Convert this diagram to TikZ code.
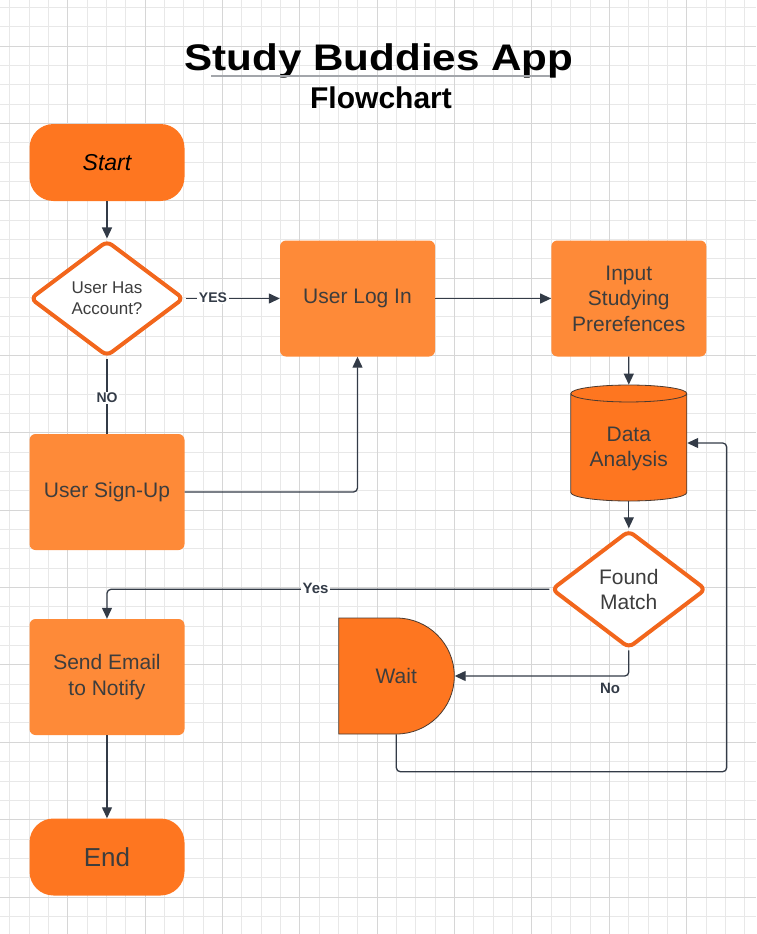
\documentclass[tikz,border=0pt]{standalone}
\usepackage{fontspec}
\setmainfont{Liberation Sans}
\usetikzlibrary{shapes.geometric,shapes.misc,arrows.meta}
\definecolor{StartOrange}{HTML}{FE7620}
\definecolor{BoxOrange}{HTML}{FE8A38}
\definecolor{DecOrange}{HTML}{F2661C}
\definecolor{LineGray}{HTML}{333B47}
\definecolor{TextGray}{HTML}{3D3D3D}
\definecolor{EdgeBrown}{HTML}{4A3A30}
\definecolor{GridMinor}{HTML}{E8E8E8}
\definecolor{GridMajor}{HTML}{D6D6D6}
\definecolor{RuleGray}{HTML}{A3A6AB}

\begin{document}
\begin{tikzpicture}[
    x=1pt, y=1pt,
    gridline/.style={
        draw=GridMinor,
        line width=0.8pt
    },
    gridmajor/.style={
        draw=GridMajor,
        line width=0.9pt
    },
    terminal/.style={
        rectangle,
        rounded corners=24pt,
        fill=StartOrange,
        minimum width=155pt,
        minimum height=77pt
    },
    process/.style={
        rectangle,
        rounded corners=6pt,
        fill=BoxOrange,
        minimum width=155pt,
        minimum height=116pt,
        text=TextGray,
        align=center,
        font=\fontsize{21}{25.5}\selectfont
    },
    decision/.style={
        diamond,
        draw=DecOrange,
        line width=4pt,
        fill=white,
        rounded corners=6pt,
        aspect=1.3,
        inner sep=0pt,
        minimum width=154pt,
        minimum height=116pt,
        text=TextGray,
        align=center
    },
    storage/.style={
        cylinder,
        shape border rotate=90,
        aspect=0.2,
        draw=EdgeBrown,
        line width=0.8pt,
        fill=StartOrange,
        minimum width=116pt,
        minimum height=116pt,
        text=TextGray,
        align=center,
        font=\fontsize{21}{25.5}\selectfont
    },
    delay/.style={
        rounded rectangle,
        rounded rectangle left arc=none,
        draw=EdgeBrown,
        line width=0.8pt,
        fill=StartOrange,
        minimum width=116pt,
        minimum height=116pt,
        text=TextGray,
        font=\fontsize{21}{25.5}\selectfont
    },
    flow/.style={
        draw=LineGray,
        line width=1.3pt,
        rounded corners=4pt
    },
    arrowhead/.style={
        -{Triangle[length=11pt,width=10pt]}
    },
    tag/.style={
        font=\bfseries\fontsize{14}{16}\selectfont,
        text=LineGray,
        fill=white,
        inner sep=1.5pt
    }
]

\useasboundingbox (0,0) rectangle (756,-934);

\foreach \i in {0,...,38}
    \draw[gridline] ({9.7+19.34*\i},0) -- ({9.7+19.34*\i},-934);
\foreach \j in {0,...,47}
    \draw[gridline] (0,{-7.3-19.34*\j}) -- (756,{-7.3-19.34*\j});
\foreach \i in {3,7,...,35}
    \draw[gridmajor] ({9.7+19.34*\i},0) -- ({9.7+19.34*\i},-934);
\foreach \j in {2,6,...,46}
    \draw[gridmajor] (0,{-7.3-19.34*\j}) -- (756,{-7.3-19.34*\j});

\node[font=\bfseries\fontsize{37}{40}\selectfont, anchor=base] (title) at (379,-70.5) {\scalebox{1.14}[1]{Study Buddies App}};
\draw[RuleGray, line width=1.5pt] (211,-76) -- (550,-76);
\node[font=\bfseries\fontsize{30}{34}\selectfont, anchor=base] (subtitle) at (381,-108) {Flowchart};

\node[terminal, text=black, font=\itshape\fontsize{23}{27}\selectfont] (start) at (107,-162.5) {Start};

\node[decision, font=\fontsize{17}{21}\selectfont] (account) at (107,-298.5) {User Has\\Account?};
\node[process] (login) at (357.5,-298.5) {User Log In};
\node[process] (prefs) at (628.8,-298.5) {Input\\Studying\\Prerefences};

\node[storage, anchor=shape center] (data) at (628.8,-443) {Data\\Analysis};
\node[decision, font=\fontsize{21}{25.5}\selectfont, minimum width=155pt, minimum height=118pt] (match) at (628.8,-589.3) {Found\\Match};

\node[process] (signup) at (107,-492) {User Sign-Up};
\node[process] (notify) at (107,-677) {Send Email\\to Notify};
\node[delay] (wait) at (396.3,-676) {Wait};

\node[terminal, text=TextGray, font=\fontsize{26}{30}\selectfont] (finish) at (107,-857) {End};

\coordinate (loopback) at (726.7,-771.7);

\draw[flow, arrowhead] (start) -- (account);
\draw[flow, arrowhead] (account) -- (login);
\node[tag] (yes1) at (213,-298) {YES};
\draw[flow] (account) -- (signup);
\node[tag] (no1) at (107,-398) {NO};
\draw[flow, arrowhead] (signup.east) -| (login.south);
\draw[flow, arrowhead] (login) -- (prefs);
\draw[flow, arrowhead] (prefs) -- (data);
\draw[flow, arrowhead] (data) -- (match);
\draw[flow, arrowhead] (match.west) -| (notify.north);
\node[tag, font=\bfseries\fontsize{15}{17}\selectfont] (yes2) at (315.5,-588.5) {Yes};
\draw[flow, arrowhead] (match.south) |- (wait.east);
\node[tag, font=\bfseries\fontsize{15}{17}\selectfont, fill=none] (no2) at (610,-688) {No};
\draw[flow, arrowhead] (wait.south) |- (loopback) |- (data.shape center -| data.east);
\draw[flow, arrowhead] (notify) -- (finish);

\end{tikzpicture}
\end{document}
